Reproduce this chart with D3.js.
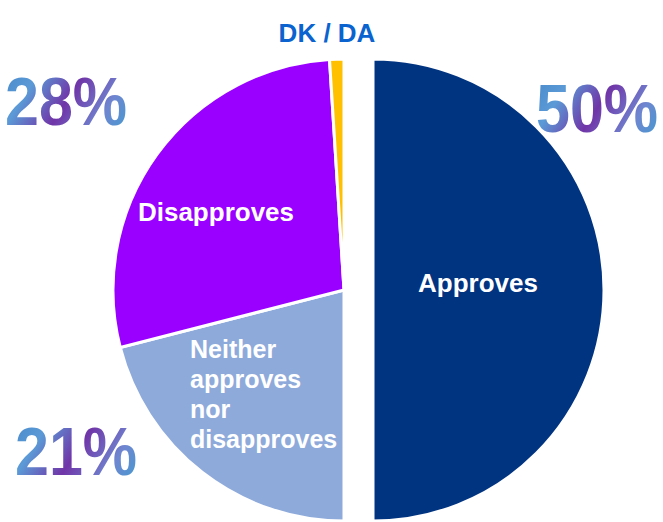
<!DOCTYPE html>
<html>
<head>
<meta charset="utf-8">
<script src="https://cdn.jsdelivr.net/npm/d3@7"></script>
<style>
  body { margin: 0; background: #fff; }
  text { font-family: "Liberation Sans", Arial, sans-serif; font-weight: bold; }
</style>
</head>
<body>
<div id="chart"></div>
<script>
var w = 663, h = 522;

var categories = ['Approves', 'Neither approves nor disapproves', 'Disapproves', 'DK / DA'];
var values = [50, 21, 28, 1];
var pctLabels = ['50%', '21%', '28%', ''];
var colors = ['#003380', '#8eaadb', '#9900ff', '#ffc000'];

var cx = 344, cy = 290, radius = 231, explode = 29;

var svg = d3.select('#chart')
  .append('svg')
    .attr('width', w)
    .attr('height', h);

var defs = svg.append('defs');
var grad = defs.append('linearGradient')
  .attr('id', 'pctGrad')
  .attr('x1', '0').attr('y1', '0.3')
  .attr('x2', '1').attr('y2', '0.7');
grad.append('stop').attr('offset', '0').attr('stop-color', '#4f8fcf');
grad.append('stop').attr('offset', '0.18').attr('stop-color', '#5b9ad6');
grad.append('stop').attr('offset', '0.5').attr('stop-color', '#7035a8');
grad.append('stop').attr('offset', '0.82').attr('stop-color', '#6f86d0');
grad.append('stop').attr('offset', '1').attr('stop-color', '#4f95d0');

var data = categories.map(function(c, i) {
  return {name: c, value: values[i], color: colors[i]};
});

var pie = d3.pie()
  .sort(null)
  .value(function(d) { return d.value; });

var arc = d3.arc()
  .innerRadius(0)
  .outerRadius(radius);

var g = svg.append('g')
  .attr('transform', 'translate(' + [cx, cy] + ')');

g.selectAll('.slice')
  .data(pie(data))
  .enter().append('path')
    .attr('class', 'slice')
    .attr('d', arc)
    .attr('transform', function(d) {
      // only the Approves slice is pulled out
      if (d.data.name !== 'Approves') return null;
      var a = (d.startAngle + d.endAngle) / 2;
      return 'translate(' + [Math.sin(a) * explode, -Math.cos(a) * explode] + ')';
    })
    .style('fill', function(d) { return d.data.color; })
    .style('stroke', '#fff')
    .style('stroke-width', 3);

// slice labels
var inner = [
  {lines: ['Approves'], x: 478, y: 292, anchor: 'middle', fill: '#fff', size: 26},
  {lines: ['Neither', 'approves', 'nor', 'disapproves'], x: 190, y: 358, anchor: 'start', fill: '#fff', size: 25},
  {lines: ['Disapproves'], x: 216, y: 221, anchor: 'middle', fill: '#fff', size: 26},
  {lines: ['DK / DA'], x: 327, y: 42, anchor: 'middle', fill: '#0a63cf', size: 26}
];

inner.forEach(function(l) {
  var t = svg.append('text')
    .attr('x', l.x)
    .attr('y', l.y)
    .attr('text-anchor', l.anchor)
    .style('font-size', l.size + 'px')
    .style('fill', l.fill);
  l.lines.forEach(function(s, i) {
    t.append('tspan')
      .attr('x', l.x)
      .attr('dy', i === 0 ? 0 : 30)
      .text(s);
  });
});

// big percentage labels (tall, slightly narrow glyphs)
var pctPos = [
  {x: 536, y: 132},
  {x: 15, y: 475},
  {x: 5, y: 125},
  null
];

pctLabels.forEach(function(p, i) {
  if (!p) return;
  svg.append('text')
    .attr('transform', 'translate(' + [pctPos[i].x, pctPos[i].y] + ') scale(1,1.115)')
    .style('font-size', '61px')
    .style('fill', 'url(#pctGrad)')
    .text(p);
});
</script>
</body>
</html>
